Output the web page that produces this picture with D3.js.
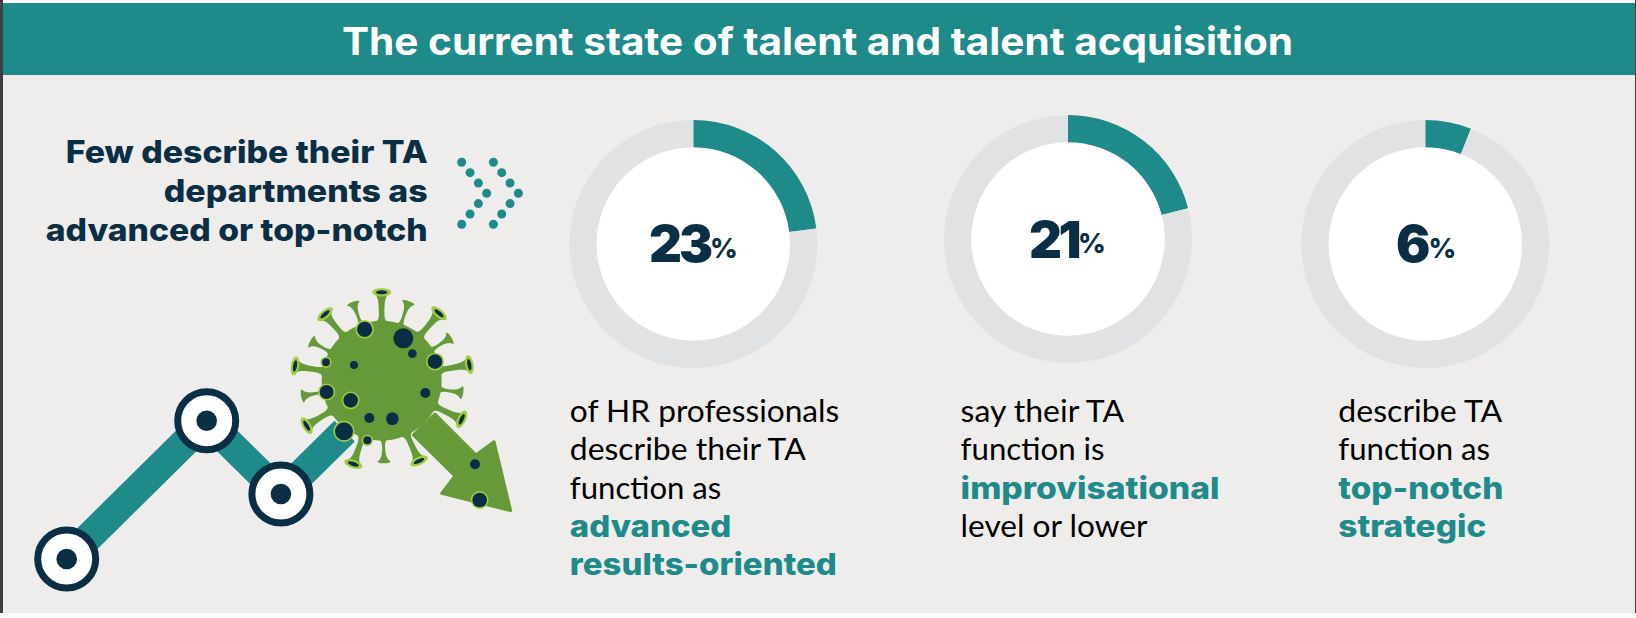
<!DOCTYPE html>
<html><head><meta charset="utf-8">
<script src="https://cdn.jsdelivr.net/npm/d3@7"></script>
<style>html,body{margin:0;padding:0;background:#fff}svg{display:block}</style></head>
<body><svg id="c" width="1636" height="618"></svg>
<script>
// ---------- data ----------
const title = "The current state of talent and talent acquisition";
const headingLines = ["Few describe their TA", "departments as", "advanced or top-notch"];
const shares = [23, 21, 6];
const captions = [
  ["of HR professionals", "describe their TA", "function as", "*advanced", "*results-oriented"],
  ["say their TA", "function is", "*improvisational", "level or lower"],
  ["describe TA", "function as", "*top-notch", "*strategic"]
];
const trendStep = [0, 2, 3.06, 3.97];
const trendLevel = [0, 2, 0.94, 1.85];

// ---------- layout / style ----------
const TEAL = "#1e8a89", NAVY = "#0a2e44", GRAY = "#e1e2e4", BG = "#eeedeb";
const GREEN = "#669a38", LIME = "#a2cb3e";
const HEAD = "Inter, 'DejaVu Sans', sans-serif", BODY = "Lato, sans-serif";
const svg = d3.select("#c");

svg.append("rect").attr("width", 1636).attr("height", 618).attr("fill", "#fff");
svg.append("rect").attr("x", 0).attr("y", 3).attr("width", 1636).attr("height", 610).attr("fill", BG);
svg.append("rect").attr("x", 0).attr("y", 3).attr("width", 1636).attr("height", 72).attr("fill", TEAL);
svg.append("rect").attr("x", 0).attr("y", 0).attr("width", 3).attr("height", 613).attr("fill", "#3c3f41");
svg.append("rect").attr("x", 1635).attr("y", 0).attr("width", 1).attr("height", 613).attr("fill", "#3c3f41");

function fitText(sel, txt, x, y, w, size, weight, fill, family, anchor) {
  return sel.append("text").attr("x", x).attr("y", y).text(txt)
    .attr("font-family", family).attr("font-size", size).attr("font-weight", weight)
    .attr("fill", fill).attr("text-anchor", anchor || "start")
    .attr("textLength", w).attr("lengthAdjust", "spacingAndGlyphs");
}

// title
fitText(svg, title, 342, 55, 951, 38, 700, "#fff", HEAD);

// heading
const headingRight = 427.7, headingBase = [163, 201.7, 240.7], headingW = [362, 264, 382];
headingLines.forEach((t, i) => fitText(svg, t, headingRight, headingBase[i], headingW[i], 31, 800, NAVY, HEAD, "end"));

// chevrons
const chevOffset = [0, 1, 2, 3, 2, 1, 0];
[0, 1].forEach(c => chevOffset.forEach((o, i) => {
  svg.append("circle").attr("cx", 461.7 + c * 31.7 + o * 8.33).attr("cy", 162.3 + i * 10.33).attr("r", 4.5).attr("fill", TEAL);
}));

// donuts
const donutCx = [693.3, 1068, 1425.3], donutCy = [244, 239, 244];
const numX = [649, 1029, 1396], numBase = [262.3, 257.7, 262.3], numSpacing = [-3, -3.5, -2];
const pie = d3.pie().sort(null).value(d => d);
const ring = d3.arc().innerRadius(96.7).outerRadius(124);
shares.forEach((v, i) => {
  const g = svg.append("g").attr("transform", `translate(${donutCx[i]},${donutCy[i]})`);
  g.append("circle").attr("r", 100).attr("fill", "#fff");
  g.selectAll("path").data(pie([v, 100 - v])).join("path")
    .attr("d", ring).attr("fill", (d, j) => j === 0 ? TEAL : GRAY);
  const t = svg.append("text").attr("x", numX[i]).attr("y", numBase[i]).attr("font-family", HEAD).attr("fill", NAVY);
  t.append("tspan").attr("font-size", 51).attr("font-weight", 900).attr("letter-spacing", numSpacing[i]).text(v);
  t.append("tspan").attr("font-size", 27).attr("font-weight", 800).attr("dy", -4.5).text("%");
});

// captions
const capX = [569.8, 960.6, 1338.3], capBase = [421.7, 460, 498.5, 537, 575];
const capW = [[269.5, 236, 151.5, 161.6, 267], [163.5, 144, 259, 187], [164, 151.7, 165, 148]];
captions.forEach((lines, c) => lines.forEach((t, i) => {
  const strong = t[0] === "*";
  fitText(svg, strong ? t.slice(1) : t, capX[c], capBase[i], capW[c][i], strong ? 30 : 31,
    strong ? 800 : 400, strong ? TEAL : "#000", strong ? HEAD : BODY);
}));

// trend line
const tx = d3.scaleLinear().domain([0, 4]).range([66.7, 346.7]);
const ty = d3.scaleLinear().domain([0, 2]).range([559, 420.7]);
const trend = trendStep.map((s, i) => [tx(s), ty(trendLevel[i])]);
svg.append("path").attr("d", d3.line()(trend)).attr("fill", "none").attr("stroke", TEAL)
  .attr("stroke-width", 29);

// virus (drawn in crop units, 3 per page pixel)
const vx = d3.scaleLinear().domain([0, 1560]).range([0, 520]);
const vy = d3.scaleLinear().domain([0, 1074]).range([260, 618]);
const vc = [1145, 362];
const v = svg.append("g");
const bigHeads = [[1145,97],[975,163],[1317,160],[885,318],[1408,314],[920,497],[1385,478],[1060,612],[1257,603]];
const smallHeads = [[1060,130],[1225,128],[935,245],[1350,235],[908,408],[1385,398],[1152,605]];
function spike(p, big) {
  const dx = vx(p[0]) - vx(vc[0]), dy = vy(p[1]) - vy(vc[1]);
  const L = Math.hypot(dx, dy), a = Math.atan2(dx, -dy) * 180 / Math.PI;
  const h = big ? 9.5 : 6.5, s = big ? 2.8 : 1.5, f = big ? 8 : 5;
  const g = v.append("g").attr("transform", `translate(${vx(vc[0])},${vy(vc[1])}) rotate(${a})`);
  g.append("path").attr("fill", GREEN).attr("d",
    `M${-s-f},-56 C${-s-1},-59 ${-s},-62 ${-s},-66
     C${-s},${-L+7} ${-s-1},${-L+3} ${-h},${-L}
     L${h},${-L} C${s+1},${-L+3} ${s},${-L+7} ${s},-66
     C${s},-62 ${s+1},-59 ${s+f},-56 Z`);
  if (big) {
    g.append("ellipse").attr("cy", -L).attr("rx", h).attr("ry", 4.2).attr("fill", LIME);
    g.append("ellipse").attr("cy", -L).attr("rx", 5.8).attr("ry", 2).attr("fill", NAVY);
  } else {
    g.append("ellipse").attr("cy", -L).attr("rx", h).attr("ry", 1.6).attr("fill", GREEN);
  }
}
bigHeads.forEach(p => spike(p, true));
smallHeads.forEach(p => spike(p, false));
v.append("circle").attr("cx", vx(vc[0])).attr("cy", vy(vc[1])).attr("r", 60).attr("fill", GREEN);
const arrowPts = [[1240,525],[1365,648],[1325,700],[1532,752],[1482,545],[1428,585],[1305,462]];
v.append("path").attr("d", d3.line().x(d => vx(d[0])).y(d => vy(d[1])).curve(d3.curveLinearClosed)(arrowPts))
  .attr("fill", GREEN).attr("stroke", GREEN).attr("stroke-width", 3).attr("stroke-linejoin", "round");
const spots = [[1094,208,23,1],[1210,235,30,0],[1237,281,13,0],[1305,305,22,1],[978,307,12,1],[1062,315,12,0],
  [980,396,21,1],[1052,421,22,1],[1276,399,15,0],[1108,474,15,0],[1177,476,19,0],[1032,514,27,1],[1102,541,12,1],
  [1425,613,15,0],[1439,720,22,1]];
spots.forEach(s => {
  if (s[3]) v.append("circle").attr("cx", vx(s[0])).attr("cy", vy(s[1])).attr("r", s[2] / 3 + 1.6).attr("fill", LIME);
  v.append("circle").attr("cx", vx(s[0])).attr("cy", vy(s[1])).attr("r", s[2] / 3).attr("fill", NAVY);
});

// trend nodes
trend.slice(0, 3).forEach(p => {
  svg.append("circle").attr("cx", p[0]).attr("cy", p[1]).attr("r", 29).attr("fill", "#fff").attr("stroke", NAVY).attr("stroke-width", 7);
  svg.append("circle").attr("cx", p[0]).attr("cy", p[1]).attr("r", 10.3).attr("fill", NAVY);
});
</script></body></html>
